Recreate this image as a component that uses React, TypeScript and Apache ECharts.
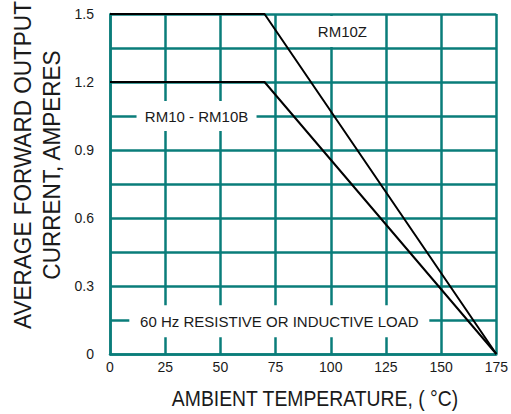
import React, { useEffect, useRef } from 'react';
import * as echarts from 'echarts';

// Data
const rm10zTemp = [0, 70, 175];
const rm10zCurrent = [1.5, 1.5, 0];
const rm10Temp = [0, 70, 175];
const rm10Current = [1.2, 1.2, 0];
const yTickLabels = ['0', '0.3', '0.6', '0.9', '1.2', '1.5'];
const annotationTexts = ['RM10Z', 'RM10 - RM10B', '60 Hz RESISTIVE OR INDUCTIVE LOAD'];
const annotationTemp = [105.3, 39.2, 76.7];
const annotationCurrent = [1.423, 1.05, 0.145];
const annotationSizes: [number, number][] = [[77, 31], [120, 30], [300, 32]];

const TEAL = '#0a7d7a';
const FONT = '"Liberation Sans", Arial, sans-serif';

export default function App() {
  const ref = useRef<HTMLDivElement>(null);
  useEffect(() => {
    if (!ref.current) return;
    const chart = echarts.init(ref.current, undefined, { renderer: 'svg' });
    chart.setOption({
      animation: false,
      backgroundColor: '#fff',
      textStyle: { fontFamily: FONT },
      grid: { left: 110, right: 13, top: 14, bottom: 60, containLabel: false },
      xAxis: {
        type: 'value',
        min: 0,
        max: 175,
        interval: 25,
        axisLine: { show: true, lineStyle: { color: TEAL, width: 2.5 } },
        axisTick: { show: false },
        splitLine: { show: true, lineStyle: { color: TEAL, width: 2.5 } },
        axisLabel: { color: '#1a1a1a', fontSize: 14, margin: 6, fontFamily: FONT },
      },
      yAxis: {
        type: 'value',
        min: 0,
        max: 1.5,
        interval: 0.15,
        axisLine: { show: true, lineStyle: { color: TEAL, width: 2.5 } },
        axisTick: { show: false },
        splitLine: { show: true, lineStyle: { color: TEAL, width: 2.5 } },
        axisLabel: {
          color: '#1a1a1a',
          fontSize: 14,
          margin: 16,
          fontFamily: FONT,
          formatter: (_v: number, i: number) => (i % 2 === 0 ? yTickLabels[i / 2] ?? '' : ''),
        },
      },
      graphic: [
        {
          type: 'text',
          x: 37,
          y: 165,
          rotation: Math.PI / 2,
          scaleX: 0.94,
          style: {
            text: 'AVERAGE FORWARD OUTPUT\nCURRENT, AMPERES',
            font: `24px ${FONT}`,
            fill: '#1a1a1a',
            align: 'center',
            verticalAlign: 'middle',
            lineHeight: 29,
          },
        },
        {
          type: 'text',
          x: 315,
          y: 398,
          scaleX: 0.88,
          style: {
            text: 'AMBIENT TEMPERATURE, ( °C)',
            font: `22px ${FONT}`,
            fill: '#1a1a1a',
            align: 'center',
            verticalAlign: 'middle',
          },
        },
      ],
      series: [
        {
          name: 'RM10Z',
          type: 'line',
          data: rm10zTemp.map((t, i) => [t, rm10zCurrent[i]]),
          symbol: 'none',
          clip: false,
          lineStyle: { color: '#000', width: 2 },
          z: 3,
          markPoint: {
            symbol: 'rect',
            silent: true,
            data: annotationTexts.map((t, i) => ({
              name: t,
              coord: [annotationTemp[i], annotationCurrent[i]],
              symbolSize: annotationSizes[i],
            })),
            itemStyle: { color: '#fff' },
            label: {
              show: true,
              position: 'inside',
              formatter: '{b}',
              color: '#1a1a1a',
              fontSize: 15,
              fontFamily: FONT,
            },
          },
        },
        {
          name: 'RM10 - RM10B',
          type: 'line',
          data: rm10Temp.map((t, i) => [t, rm10Current[i]]),
          symbol: 'none',
          clip: false,
          lineStyle: { color: '#000', width: 2 },
          z: 3,
        },
      ],
    });
    return () => chart.dispose();
  }, []);
  return <div ref={ref} style={{ width: 511, height: 414, position: 'absolute', left: 0, top: 0 }} />;
}
